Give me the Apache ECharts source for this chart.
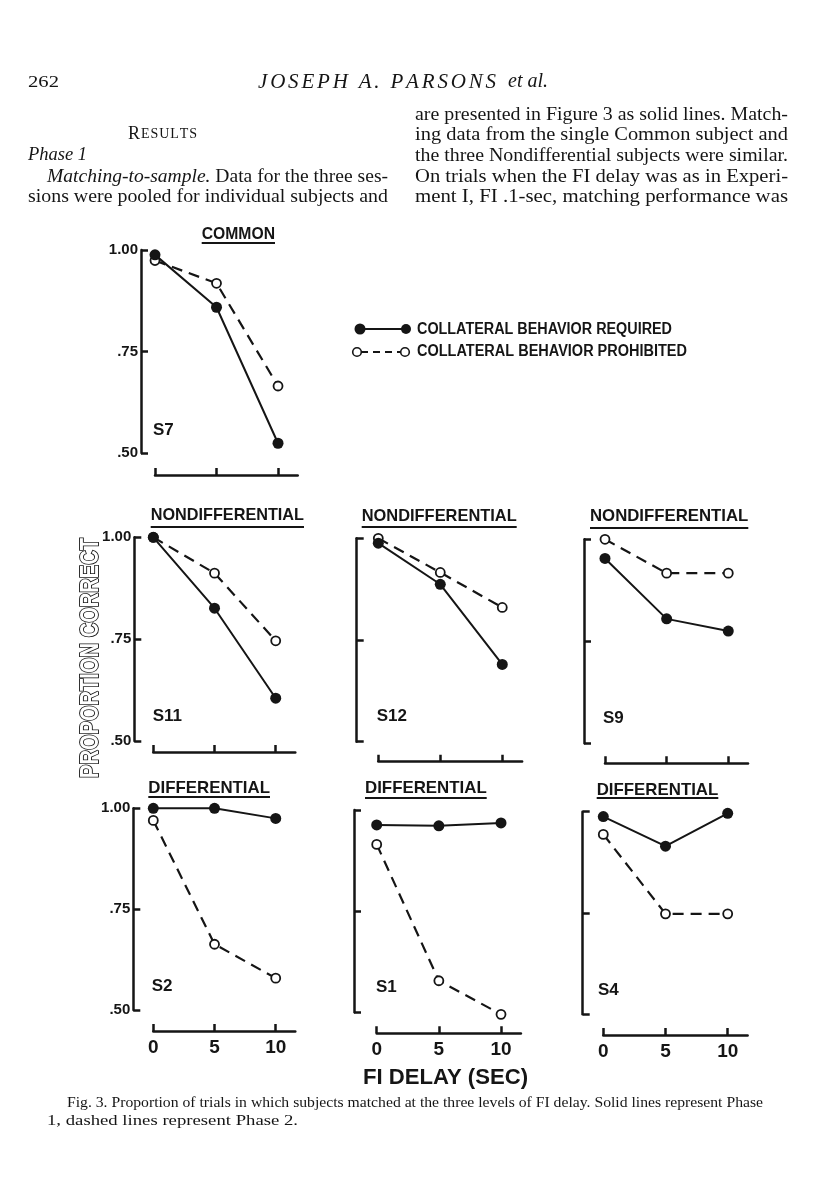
<!DOCTYPE html>
<html><head><meta charset="utf-8">
<script src="https://cdn.jsdelivr.net/npm/echarts@6/dist/echarts.min.js"></script>
<style>html,body{margin:0;padding:0;background:#fff}#c{width:816px;height:1200px}</style>
</head><body><div id="c"></div>
<script>
// ---------------- data ----------------
const fiDelay = [0, 5, 10];
const xTickLabels = ['0', '5', '10'];
const yTickValues = [0.5, 0.75, 1.0];
const yTickLabels = ['.50', '.75', '1.00'];
const subjects = ['S7', 'S11', 'S12', 'S9', 'S2', 'S1', 'S4'];
const groups = ['COMMON', 'NONDIFFERENTIAL', 'NONDIFFERENTIAL', 'NONDIFFERENTIAL', 'DIFFERENTIAL', 'DIFFERENTIAL', 'DIFFERENTIAL'];
const requiredS7 = [0.988, 0.859, 0.524];
const prohibitedS7 = [0.974, 0.918, 0.665];
const requiredS11 = [1.00, 0.826, 0.605];
const prohibitedS11 = [1.00, 0.912, 0.746];
const requiredS12 = [0.988, 0.887, 0.690];
const prohibitedS12 = [1.00, 0.916, 0.830];
const requiredS9 = [0.953, 0.805, 0.775];
const prohibitedS9 = [1.00, 0.917, 0.917];
const requiredS2 = [1.00, 1.00, 0.975];
const prohibitedS2 = [0.970, 0.663, 0.579];
const requiredS1 = [0.963, 0.961, 0.968];
const prohibitedS1 = [0.915, 0.578, 0.495];
const requiredS4 = [0.988, 0.915, 0.996];
const prohibitedS4 = [0.944, 0.748, 0.748];
const legendLabels = ['COLLATERAL BEHAVIOR REQUIRED', 'COLLATERAL BEHAVIOR PROHIBITED'];
const yAxisTitle = 'PROPORTION CORRECT';
const xAxisTitle = 'FI DELAY (SEC)';

const required = [requiredS7, requiredS11, requiredS12, requiredS9, requiredS2, requiredS1, requiredS4];
const prohibited = [prohibitedS7, prohibitedS11, prohibitedS12, prohibitedS9, prohibitedS2, prohibitedS1, prohibitedS4];

// ---------------- layout ----------------
const XMAX = 11.6;
const L = [
 {left:155,   top:250,   w:142.7, h:203,   yOff:14,   xOff:22,   yLab:true,  xLab:false, t:[201.7,275,234,243], s:[153,430]},
 {left:153.3, top:537.3, w:142,   h:203.7, yOff:19,   xOff:11,   yLab:true,  xLab:false, t:[150.7,304,515,527], s:[152.7,716]},
 {left:378.3, top:538.3, w:143.8, h:203.4, yOff:21.6, xOff:20,   yLab:false, xLab:false, t:[361.7,516.7,516,527], s:[376.7,716]},
 {left:605,   top:539.3, w:143,   h:204,   yOff:21,   xOff:20,   yLab:false, xLab:false, t:[590,748.3,516,528], s:[603,718]},
 {left:153.3, top:808.3, w:142,   h:201.7, yOff:20,   xOff:21,   yLab:true,  xLab:true,  t:[148.3,270,788,797], s:[151.7,986]},
 {left:376.7, top:810,   w:144.2, h:202.3, yOff:22.7, xOff:21,   yLab:false, xLab:true,  t:[365,486.7,788,798], s:[376,987]},
 {left:603.3, top:811.7, w:144.3, h:202.6, yOff:20.6, xOff:20.7, yLab:false, xLab:true,  t:[596.7,718.3,790,798], s:[598,990]}
];
const INK = '#151515';
const SANS = "'Liberation Sans', Arial, sans-serif";
const SERIF = "'Liberation Serif', 'Times New Roman', serif";

const mctx = document.createElement('canvas').getContext('2d');
function measure(text, font) { mctx.font = font; return mctx.measureText(text).width; }

function txt(text, font, x, y, sc) {
  return {type:'text', x:x, y:y, scaleX:sc, z:10,
    style:{text:text, font:font, fill:INK, align:'left', verticalAlign:'middle', textAlign:'left', textVerticalAlign:'middle'}};
}
function fitSegs(segs, x0, x1, y) {
  const widths = segs.map(s => measure(s.text, s.font));
  const total = widths.reduce((a, b) => a + b, 0);
  const sc = x1 == null ? 1 : (x1 - x0) / total;
  const els = [];
  let cx = x0;
  segs.forEach((s, k) => { els.push(txt(s.text, s.font, cx, y, sc)); cx += widths[k] * sc; });
  return els;
}
function fit(text, font, x0, x1, y) { return fitSegs([{text, font}], x0, x1, y); }
function spaced(text, font, x0, x1, y) {
  const chars = text.split('');
  const ws = chars.map(c => measure(c, font));
  const total = ws.reduce((a, b) => a + b, 0);
  const gap = (x1 - x0 - total) / (chars.length - 1);
  const els = [];
  let cx = x0;
  chars.forEach((c, k) => { if (c !== ' ') els.push(txt(c, font, cx, y, 1)); cx += ws[k] + gap; });
  return els;
}

// ---------------- graphics: page text ----------------
const G = [];
const body = '18.5px ' + SERIF, bodyI = 'italic 18.5px ' + SERIF;
G.push(...fit('262', '17.5px ' + SERIF, 28, 59, 82));
G.push(...spaced('JOSEPH A. PARSONS', 'italic 21px ' + SERIF, 258, 496, 82));
G.push(...fit('et al.', 'italic 20px ' + SERIF, 508, 548, 82));
G.push(...spaced('R', '18px ' + SERIF, 128, 140, 134));
G.push(...spaced('ESULTS', '14px ' + SERIF, 141, 197, 134));
G.push(...fit('Phase 1', bodyI, 28, null, 155));
G.push(...fitSegs([{text:'Matching-to-sample. ', font:bodyI}, {text:'Data for the three ses-', font:body}], 47, 388, 177));
G.push(...fit('sions were pooled for individual subjects and', body, 28, 388, 197.5));
const rightCol = ['are presented in Figure 3 as solid lines. Match-',
  'ing data from the single Common subject and',
  'the three Nondifferential subjects were similar.',
  'On trials when the FI delay was as in Experi-',
  'ment I, FI .1-sec, matching performance was'];
rightCol.forEach((t, k) => G.push(...fit(t, body, 415, 788, 115 + k * 20.6)));
G.push(...fit('Fig. 3. Proportion of trials in which subjects matched at the three levels of FI delay. Solid lines represent Phase', '15px ' + SERIF, 67, 763, 1103));
G.push(...fit('1, dashed lines represent Phase 2.', '15px ' + SERIF, 47, 298, 1121));

// panel titles, underlines, subject labels
L.forEach((p, i) => {
  G.push(...fit(groups[i], 'bold 17px ' + SANS, p.t[0], p.t[1], p.t[2]));
  G.push({type:'line', z:10, shape:{x1:p.t[0], y1:p.t[3], x2:p.t[1], y2:p.t[3]}, style:{stroke:INK, lineWidth:2}});
  G.push(...fit(subjects[i], 'bold 17px ' + SANS, p.s[0], null, p.s[1]));
});

// axis titles
(function () {
  const f = 'bold 25px ' + SANS;
  const w = measure(yAxisTitle, f);
  G.push({type:'text', x:91, y:658, rotation:Math.PI / 2, scaleX:240 / w, z:10,
    style:{text:yAxisTitle, font:f, fill:'#fff', stroke:INK, lineWidth:1.8, align:'center', verticalAlign:'middle',
           textAlign:'center', textVerticalAlign:'middle'}});
})();
G.push(...fit(xAxisTitle, 'bold 22px ' + SANS, 363, 528, 1078));

// legend
G.push({type:'line', z:10, shape:{x1:360, y1:329, x2:406, y2:329}, style:{stroke:INK, lineWidth:2}});
G.push({type:'circle', z:11, shape:{cx:360, cy:329, r:5.5}, style:{fill:INK}});
G.push({type:'circle', z:11, shape:{cx:406, cy:329, r:5}, style:{fill:INK}});
G.push(...fit(legendLabels[0], 'bold 16px ' + SANS, 417, 672, 330));
G.push({type:'line', z:10, shape:{x1:361, y1:352, x2:401, y2:352}, style:{stroke:INK, lineWidth:2, lineDash:[7, 5]}});
G.push({type:'circle', z:11, shape:{cx:357, cy:352, r:4.3}, style:{fill:'#fff', stroke:INK, lineWidth:1.6}});
G.push({type:'circle', z:11, shape:{cx:405, cy:352, r:4.3}, style:{fill:'#fff', stroke:INK, lineWidth:1.6}});
G.push(...fit(legendLabels[1], 'bold 16px ' + SANS, 417, 687, 352));

// ---------------- chart ----------------
const option = {
  animation: false,
  backgroundColor: '#fff',
  grid: L.map(p => ({left:p.left, top:p.top, width:p.w, height:p.h, containLabel:false})),
  xAxis: L.map((p, i) => ({
    type:'value', gridIndex:i, min:0, max:XMAX, interval:5, position:'bottom', offset:p.xOff,
    axisLine:{show:true, onZero:false, lineStyle:{color:INK, width:2.5}},
    axisTick:{show:true, inside:true, length:7, customValues:fiDelay, lineStyle:{color:INK, width:2.5}},
    axisLabel:{show:p.xLab, customValues:fiDelay, margin:7, color:INK, fontSize:19, fontWeight:'bold', fontFamily:SANS,
      formatter: v => { const k = fiDelay.indexOf(v); return k < 0 ? '' : xTickLabels[k]; }},
    splitLine:{show:false}
  })),
  yAxis: L.map((p, i) => ({
    type:'value', gridIndex:i, min:0.5, max:1.0, interval:0.25, position:'left', offset:p.yOff,
    axisLine:{show:true, onZero:false, lineStyle:{color:INK, width:2.5}},
    axisTick:{show:true, inside:true, length:7, lineStyle:{color:INK, width:2.5}},
    axisLabel:{show:p.yLab, margin:3, color:INK, fontSize:15, fontWeight:'bold', fontFamily:SANS,
      formatter: v => { const k = yTickValues.findIndex(t => Math.abs(t - v) < 1e-6); return k < 0 ? '' : yTickLabels[k]; }},
    splitLine:{show:false}
  })),
  series: [].concat(...L.map((p, i) => [
    {type:'line', name:legendLabels[1], xAxisIndex:i, yAxisIndex:i, clip:false, z:2,
     data: fiDelay.map((x, k) => [x, prohibited[i][k]]),
     symbol:'circle', symbolSize:9,
     itemStyle:{color:'#fff', borderColor:INK, borderWidth:1.8},
     lineStyle:{color:INK, width:2.2, type:[11, 7]}},
    {type:'line', name:legendLabels[0], xAxisIndex:i, yAxisIndex:i, clip:false, z:3,
     data: fiDelay.map((x, k) => [x, required[i][k]]),
     symbol:'circle', symbolSize:11,
     itemStyle:{color:INK},
     lineStyle:{color:INK, width:2}}
  ])),
  graphic: {elements: G}
};
const chart = echarts.init(document.getElementById('c'), null, {renderer:'canvas'});
chart.setOption(option);
</script>
</body></html>
